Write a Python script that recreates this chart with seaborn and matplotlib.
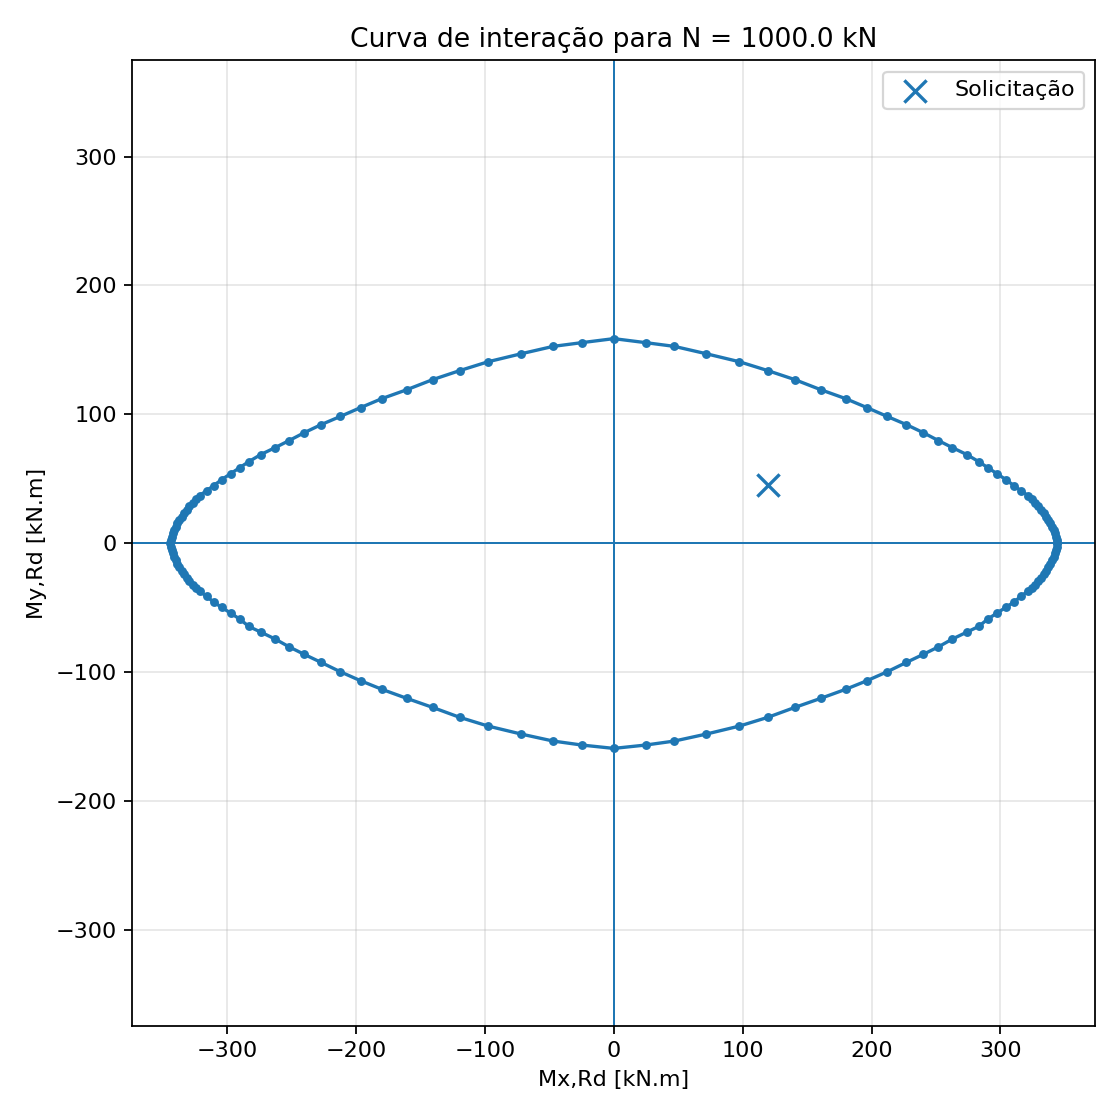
import pandas as pd
import matplotlib
matplotlib.use("Agg")
import matplotlib.pyplot as plt
import seaborn as sns

# Interaction curve points (kN.m), going round the loop
mx_q1 = [344.0, 343.6, 343.0, 342.2, 341.2, 340.0, 338.6, 337.0, 335.3, 333.4, 331.4, 329.2, 326.8, 324.2,
         321.3, 315.8, 310.4, 304.1, 297.1, 290.1, 283.1, 273.8, 262.6, 251.9, 240.0, 227.0, 212.0, 196.4,
         179.8, 160.5, 140.5, 119.5, 97.4, 71.7, 47.0, 24.7, 0.0]
my_q1 = [0.0, 2.5, 5.0, 7.6, 10.2, 12.8, 15.4, 18.0, 20.6, 23.2, 25.8, 28.5, 31.2, 34.0,
         37.0, 40.8, 44.7, 49.4, 54.0, 58.7, 63.3, 68.8, 74.2, 79.6, 85.8, 92.0, 98.4, 105.2,
         112.2, 119.1, 126.9, 133.9, 140.8, 147.0, 152.7, 155.6, 158.7]

mx_q2 = [-24.7, -47.0, -71.7, -97.4, -119.5, -140.5, -160.5, -179.8, -196.4, -212.0, -227.0, -240.0,
         -251.9, -262.6, -273.8, -283.1, -290.1, -297.1, -304.1, -310.4, -315.8, -321.3, -324.2, -326.8,
         -329.2, -331.4, -333.4, -335.3, -337.0, -338.6, -340.0, -341.2, -342.2, -343.0, -343.6, -344.0]
my_q2 = [155.6, 152.7, 147.0, 140.8, 133.9, 126.9, 119.1, 112.2, 105.2, 98.4, 92.0, 85.8,
         79.6, 74.2, 68.8, 63.3, 58.7, 54.0, 49.4, 44.7, 40.8, 37.0, 34.0, 31.2,
         28.5, 25.8, 23.2, 20.6, 18.0, 15.4, 12.8, 10.2, 7.6, 5.0, 2.5, 0.0]

mx_q3 = [-343.6, -343.0, -342.2, -341.2, -340.0, -338.6, -337.0, -335.3, -333.4, -331.4, -329.2, -326.8,
         -324.2, -321.3, -315.8, -310.4, -304.1, -297.1, -290.1, -283.1, -273.8, -262.6, -251.9, -240.0,
         -227.0, -212.0, -196.4, -179.8, -160.5, -140.5, -119.5, -97.4, -71.7, -47.0, -24.7, 0.0]
my_q3 = [-2.6, -5.2, -7.9, -10.6, -13.3, -16.0, -18.7, -21.4, -24.1, -26.8, -29.5, -32.3,
         -35.0, -37.2, -41.3, -45.7, -49.8, -54.3, -58.9, -64.6, -69.0, -74.4, -80.4, -86.3,
         -92.5, -99.8, -106.7, -113.4, -120.4, -127.4, -135.1, -141.9, -148.1, -153.5, -156.6, -159.2]

mx_q4 = [24.7, 47.0, 71.7, 97.4, 119.5, 140.5, 160.5, 179.8, 196.4, 212.0, 227.0, 240.0,
         251.9, 262.6, 273.8, 283.1, 290.1, 297.1, 304.1, 310.4, 315.8, 321.3, 324.2, 326.8,
         329.2, 331.4, 333.4, 335.3, 337.0, 338.6, 340.0, 341.2, 342.2, 343.0, 343.6, 344.0]
my_q4 = [-156.6, -153.5, -148.1, -141.9, -135.1, -127.4, -120.4, -113.4, -106.7, -99.8, -92.5, -86.3,
         -80.4, -74.4, -69.0, -64.6, -58.9, -54.3, -49.8, -45.7, -41.3, -37.2, -35.0, -32.3,
         -29.5, -26.8, -24.1, -21.4, -18.7, -16.0, -13.3, -10.6, -7.9, -5.2, -2.6, 0.0]

# Design load
mx_sd = [120.0]
my_sd = [45.0]
N = 1000.0

curve = pd.DataFrame({
    "Mx": mx_q1 + mx_q2 + mx_q3 + mx_q4,
    "My": my_q1 + my_q2 + my_q3 + my_q4,
})
load = pd.DataFrame({"Mx": mx_sd, "My": my_sd})

fig, ax = plt.subplots(figsize=(7, 7), dpi=160)
fig.subplots_adjust(left=0.118, right=0.978, bottom=0.084, top=0.946)

sns.lineplot(data=curve, x="Mx", y="My", sort=False, estimator=None, marker="o",
             markersize=4, markeredgewidth=0, color="C0", linewidth=1.5, ax=ax)
sns.scatterplot(data=load, x="Mx", y="My", marker="x", s=100, color="C0",
                linewidth=1.5, label="Solicitação", ax=ax)

ax.axhline(0, color="C0", linewidth=0.9)
ax.axvline(0, color="C0", linewidth=0.9)

ax.set_xlim(-373.5, 373.5)
ax.set_ylim(-374.5, 374.5)
ax.set_aspect("equal")
ax.grid(True, alpha=0.3)

ax.set_title(f"Curva de interação para N = {N} kN")
ax.set_xlabel("Mx,Rd [kN.m]")
ax.set_ylabel("My,Rd [kN.m]")
ax.legend(loc="upper right")

plt.savefig("out.png", dpi=160)
